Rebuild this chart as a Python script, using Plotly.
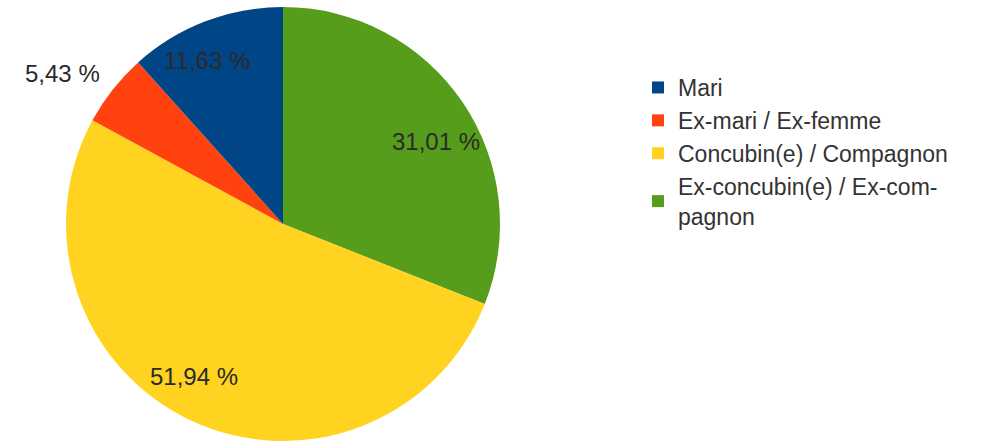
import math
import plotly.graph_objects as go

labels = ["Mari", "Ex-mari / Ex-femme", "Concubin(e) / Compagnon",
          "Ex-concubin(e) / Ex-com-<br>pagnon"]
values = [11.63, 5.43, 51.94, 31.01]
value_text = ["11,63 %", "5,43 %", "51,94 %", "31,01 %"]
colors = ["#004586", "#ff420e", "#ffd320", "#579d1c"]

W, H = 992, 443
cx, cy, R = 283, 224, 217

# label placement (radial fraction, angular shift in degrees) per slice
label_r = [0.83, 1.23, 0.815, 0.80]
label_shift = [4, 4, -5, -6]

FONT = "Liberation Sans, Arial, sans-serif"

# slices run counter-clockwise from 12 o'clock in data order:
# draw them clockwise in reversed order, and reverse the legend back
fig = go.Figure(go.Pie(
    labels=labels[::-1],
    values=values[::-1],
    sort=False,
    direction="clockwise",
    rotation=0,
    marker=dict(colors=colors[::-1], line=dict(width=0)),
    textinfo="none",
    hoverinfo="label+percent",
    domain=dict(x=[(cx - R) / W, (cx + R) / W],
                y=[1 - (cy + R) / H, 1 - (cy - R) / H]),
))

total = sum(values)
cum = 0.0
for i, v in enumerate(values):
    mid = (cum + v / 2) / total * 360 + label_shift[i]
    cum += v
    a = math.radians(mid)
    px = cx - label_r[i] * R * math.sin(a)
    py = cy - label_r[i] * R * math.cos(a)
    fig.add_annotation(x=px / W, y=1 - py / H, xref="paper", yref="paper",
                       text=value_text[i], showarrow=False,
                       xanchor="center", yanchor="middle",
                       font=dict(family=FONT, size=24, color="#2a2a2a"))

fig.update_layout(
    width=W, height=H,
    margin=dict(l=0, r=0, t=0, b=0),
    paper_bgcolor="white",
    plot_bgcolor="white",
    showlegend=True,
    legend=dict(x=638 / W, y=1 - 66 / H, xanchor="left", yanchor="top",
                font=dict(family=FONT, size=23, color="#333333"),
                traceorder="reversed"),
)

fig.write_html("out.html", config={"displayModeBar": False},
               post_script="document.body.style.margin='0';"
                           "document.body.style.overflow='hidden';")
